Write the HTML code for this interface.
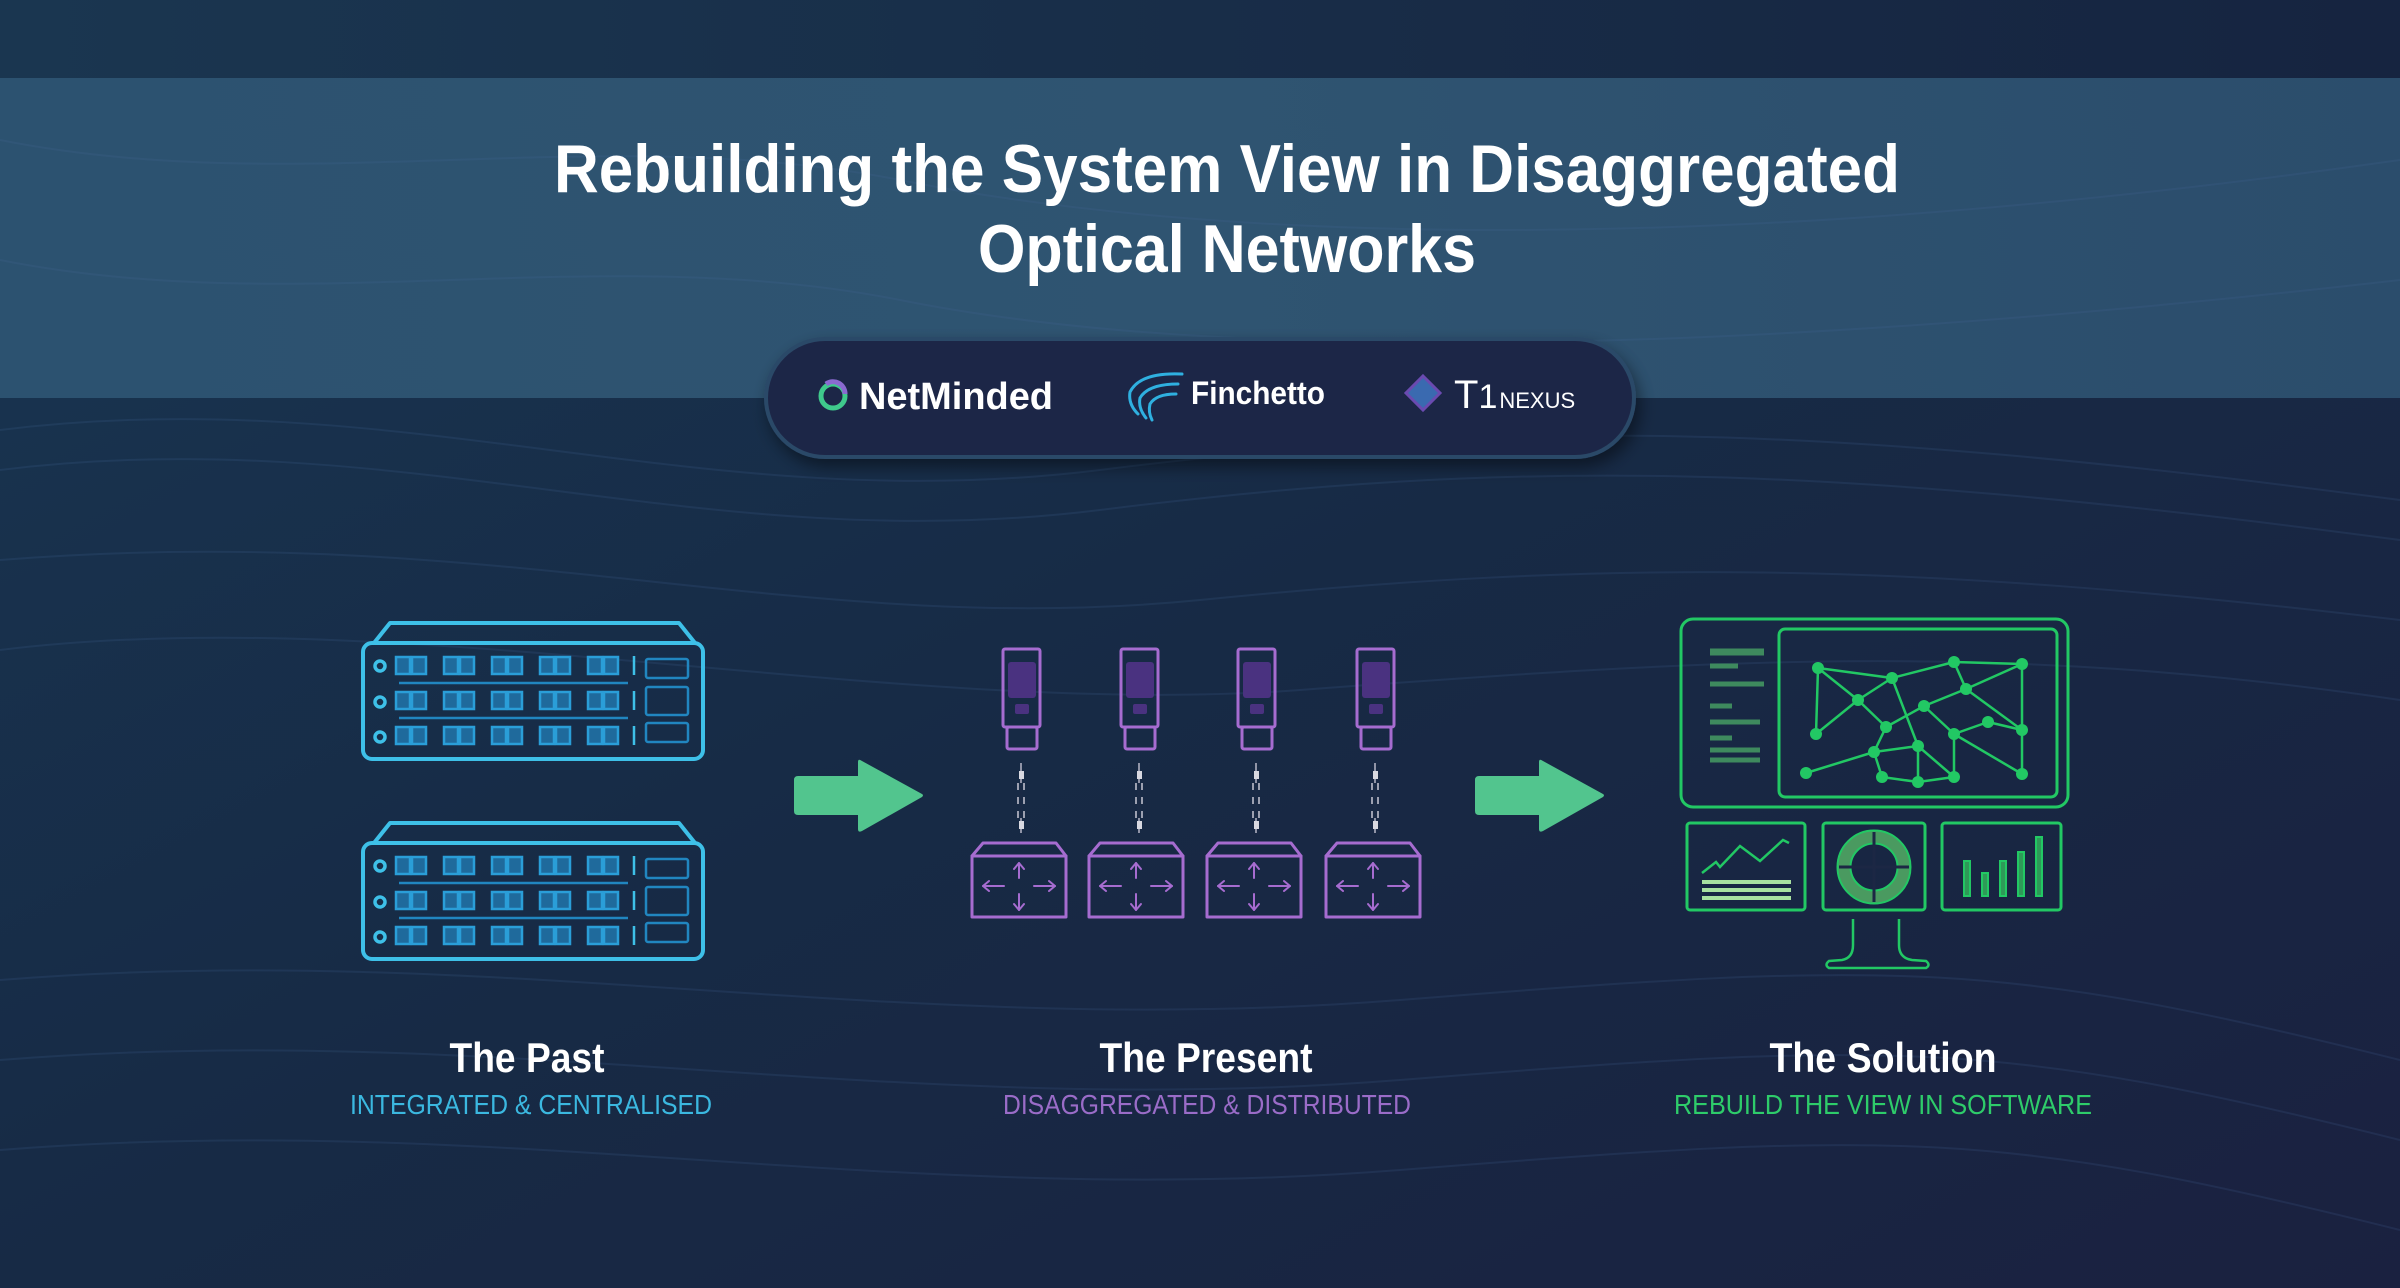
<!DOCTYPE html>
<html><head><meta charset="utf-8"><style>
html,body{margin:0;padding:0;background:#172a45;}
svg{display:block}
text{font-family:"Liberation Sans Narrow","Liberation Sans",sans-serif;}
</style></head><body>
<svg width="2400" height="1288" viewBox="0 0 2400 1288" xmlns="http://www.w3.org/2000/svg">
<defs>
<linearGradient id="bg" x1="0" y1="0" x2="1" y2="1">
<stop offset="0" stop-color="#183652"/><stop offset="0.5" stop-color="#172a45"/><stop offset="1" stop-color="#1a2140"/>
</linearGradient>
<linearGradient id="band" x1="0" y1="0" x2="1" y2="0">
<stop offset="0" stop-color="#2c5270"/><stop offset="0.5" stop-color="#2f5471"/><stop offset="1" stop-color="#2b4d6c"/>
</linearGradient>
<linearGradient id="top" x1="0" y1="0" x2="1" y2="0">
<stop offset="0" stop-color="#1a3650"/><stop offset="1" stop-color="#162440"/>
</linearGradient>
<filter id="sh" x="-10%" y="-30%" width="120%" height="170%"><feDropShadow dx="4" dy="8" stdDeviation="8" flood-color="#000" flood-opacity="0.45"/></filter>
<g id="rack" fill="none">
 <path d="M390 623 L679 623 L695 643 L374 643 Z" stroke="#3ec0e8" stroke-width="4" stroke-linejoin="round"/>
 <rect x="363" y="643" width="340" height="116" rx="9" stroke="#3ec0e8" stroke-width="4"/>
 <g stroke="#3ec0e8" stroke-width="3.5">
  <circle cx="380" cy="666" r="5"/><circle cx="380" cy="702" r="5"/><circle cx="380" cy="737" r="5"/>
 </g>
 <g stroke="#2186c0" stroke-width="2.5">
  <line x1="399" y1="683" x2="628" y2="683"/><line x1="399" y1="718" x2="628" y2="718"/>
 </g>
 <g fill="#1f6a9c" stroke="#2a9ed8" stroke-width="2.5">
  <g id="prow">
   <rect x="396" y="657" width="14" height="17"/><rect x="412" y="657" width="14" height="17"/>
   <rect x="444" y="657" width="14" height="17"/><rect x="460" y="657" width="14" height="17"/>
   <rect x="492" y="657" width="14" height="17"/><rect x="508" y="657" width="14" height="17"/>
   <rect x="540" y="657" width="14" height="17"/><rect x="556" y="657" width="14" height="17"/>
   <rect x="588" y="657" width="14" height="17"/><rect x="604" y="657" width="14" height="17"/>
  </g>
  <use href="#prow" y="35"/><use href="#prow" y="70"/>
 </g>
 <g stroke="#3ec0e8" stroke-width="2.5">
  <line x1="634" y1="656" x2="634" y2="675"/><line x1="634" y1="691" x2="634" y2="710"/><line x1="634" y1="726" x2="634" y2="745"/>
 </g>
 <g stroke="#2186c0" stroke-width="2.5">
  <rect x="646" y="659" width="42" height="19" rx="2"/><rect x="646" y="687" width="42" height="28" rx="2"/><rect x="646" y="723" width="42" height="19" rx="2"/>
 </g>
</g>
<g id="tx">
 <rect x="1003" y="649" width="37" height="78" rx="2" fill="none" stroke="#a66cd0" stroke-width="3"/>
 <rect x="1008" y="662" width="28" height="36" rx="3" fill="#4a3280"/>
 <rect x="1015" y="704" width="14" height="10" rx="2" fill="#4a3280"/>
 <rect x="1007" y="727" width="30" height="22" rx="2" fill="none" stroke="#a66cd0" stroke-width="3"/>
 <line x1="1021" y1="763" x2="1021" y2="833" stroke="#b8b8c8" stroke-width="1.5"/>
 <rect x="1019" y="771" width="5" height="8" fill="#d8d8e0"/>
 <rect x="1019" y="821" width="5" height="8" fill="#d8d8e0"/>
 <g stroke="#1a2a45" stroke-width="3"><line x1="1021" y1="783" x2="1021" y2="818"/></g>
 <g stroke="#c8c8d4" stroke-width="1.5">
  <line x1="1018" y1="783" x2="1018" y2="790"/><line x1="1024" y1="783" x2="1024" y2="790"/>
  <line x1="1018" y1="797" x2="1018" y2="804"/><line x1="1024" y1="797" x2="1024" y2="804"/>
  <line x1="1018" y1="811" x2="1018" y2="818"/><line x1="1024" y1="811" x2="1024" y2="818"/>
 </g>
</g>
<g id="sw" fill="none" stroke="#a66cd0" stroke-width="3" stroke-linejoin="round">
 <path d="M983 843 L1056 843 L1066 856 L972 856 Z"/>
 <rect x="972" y="856" width="94" height="61"/>
 <g stroke-width="2" stroke-linecap="round">
  <line x1="1019" y1="863" x2="1019" y2="878"/><path d="M1014 869 L1019 863 L1024 869"/>
  <line x1="1019" y1="894" x2="1019" y2="910"/><path d="M1014 904 L1019 910 L1024 904"/>
  <line x1="983" y1="886" x2="1004" y2="886"/><path d="M989 881 L983 886 L989 891"/>
  <line x1="1034" y1="886" x2="1055" y2="886"/><path d="M1049 881 L1055 886 L1049 891"/>
 </g>
</g>
<path id="arr" d="M0 22 Q0 18 4 18 L64 18 L64 4 Q64 0 68 3 L128 36 Q130 37 128 39 L68 73 Q64 75 64 71 L64 57 L4 57 Q0 57 0 53 Z" fill="#52c58e"/>
</defs>

<rect width="2400" height="1288" fill="url(#bg)"/>
<rect width="2400" height="78" fill="url(#top)"/>
<rect y="78" width="2400" height="320" fill="url(#band)"/>

<!-- faint waves -->
<g fill="none" stroke="#4a6a9a" stroke-opacity="0.18" stroke-width="2">
 <path d="M0 430 C400 380 700 520 1100 470 S1800 420 2400 500"/>
 <path d="M0 470 C400 420 700 560 1100 510 S1800 460 2400 540"/>
 <path d="M0 560 C500 520 800 640 1200 600 S1900 560 2400 620"/>
 <path d="M0 650 C400 600 900 720 1300 690 S2000 640 2400 700"/>
 <path d="M0 980 C500 940 900 1040 1400 1000 S2000 960 2400 1060"/>
 <path d="M0 1060 C500 1020 900 1120 1400 1080 S2000 1040 2400 1140"/>
 <path d="M0 1150 C500 1110 900 1210 1400 1170 S2000 1130 2400 1230"/>
 <path d="M0 140 C300 200 600 120 900 180 S1700 260 2400 160"/>
 <path d="M0 260 C300 320 600 240 900 300 S1700 360 2400 280"/>
</g>

<text x="1227" y="192" text-anchor="middle" font-size="68" font-weight="bold" fill="#fff" textLength="1346" lengthAdjust="spacingAndGlyphs">Rebuilding the System View in Disaggregated</text>
<text x="1227" y="272" text-anchor="middle" font-size="68" font-weight="bold" fill="#fff" textLength="498" lengthAdjust="spacingAndGlyphs">Optical Networks</text>

<!-- logo pill -->
<rect x="766" y="339" width="868" height="118" rx="59" fill="#1f2747" stroke="#2b4868" stroke-width="4" filter="url(#sh)"/>
<circle cx="833" cy="396" r="12" fill="none" stroke="#3fc98c" stroke-width="5"/>
<path d="M826 384 A12 12 0 0 1 845 394" fill="none" stroke="#8a6ad0" stroke-width="5"/>
<text x="859" y="409" font-family="Liberation Sans" font-size="38" font-weight="bold" fill="#fff" textLength="194" lengthAdjust="spacingAndGlyphs">NetMinded</text>
<g fill="none" stroke="#2fb0e0" stroke-width="3" stroke-linecap="round">
 <path d="M1182 374 Q1140 372 1130 392 Q1128 404 1138 414"/>
 <path d="M1178 384 Q1148 384 1140 398 Q1138 408 1146 418"/>
 <path d="M1176 394 Q1156 394 1150 404 Q1148 412 1152 420"/>
</g>
<text x="1191" y="404" font-family="Liberation Sans" font-size="32" font-weight="bold" fill="#fff" textLength="134" lengthAdjust="spacingAndGlyphs">Finchetto</text>
<path d="M1423 376 L1440 393 L1423 410 L1406 393 Z" fill="#3a6ab0" stroke="#6a4ab0" stroke-width="3"/>
<text x="1454" y="408" font-family="Liberation Serif" font-size="40" fill="#fff">T<tspan font-size="34">1</tspan><tspan font-family="Liberation Sans" font-size="22" dx="2">NEXUS</tspan></text>

<!-- past -->
<use href="#rack"/>
<use href="#rack" y="200"/>

<use href="#arr" x="794" y="758"/>
<use href="#arr" x="1475" y="758"/>

<!-- present -->
<use href="#tx"/><use href="#tx" x="118"/><use href="#tx" x="235"/><use href="#tx" x="354"/>
<use href="#sw"/><use href="#sw" x="117"/><use href="#sw" x="235"/><use href="#sw" x="354"/>

<!-- solution -->
<g fill="none" stroke="#22c864" stroke-width="3">
 <rect x="1681" y="619" width="387" height="188" rx="12"/>
 <rect x="1779" y="629" width="278" height="168" rx="6"/>
 <rect x="1687" y="823" width="118" height="87" rx="3"/>
 <rect x="1823" y="823" width="102" height="87" rx="3"/>
 <rect x="1942" y="823" width="119" height="87" rx="3"/>
 <path d="M1853 919 L1853 945 Q1853 958 1842 960 L1829 961 Q1824 965 1829 968 L1926 968 Q1931 965 1926 961 L1912 960 Q1899 958 1899 945 L1899 919" stroke-width="2.5"/>
</g>
<g stroke="#3e8a5e" stroke-width="5">
 <line x1="1710" y1="652" x2="1764" y2="652" stroke-width="7"/>
 <line x1="1710" y1="666" x2="1738" y2="666"/><line x1="1710" y1="684" x2="1764" y2="684"/>
 <line x1="1710" y1="706" x2="1732" y2="706"/><line x1="1710" y1="722" x2="1760" y2="722"/>
 <line x1="1710" y1="738" x2="1732" y2="738"/><line x1="1710" y1="750" x2="1760" y2="750"/>
 <line x1="1710" y1="760" x2="1760" y2="760"/>
</g>
<g stroke="#22c864" stroke-width="2.5" fill="none">
 <path d="M1818 668 L1892 678 M1818 668 L1858 700 M1818 668 L1816 734 M1892 678 L1954 662 M1892 678 L1858 700 M1892 678 L1918 746 M1954 662 L2022 664 M1954 662 L1966 689 M2022 664 L1966 689 M2022 664 L2022 730 M1858 700 L1816 734 M1858 700 L1886 727 M1886 727 L1924 706 M1924 706 L1966 689 M1924 706 L1954 734 M1966 689 L2022 730 M1954 734 L1988 722 M1988 722 L2022 730 M1954 734 L1954 777 M1954 734 L2022 774 M2022 730 L2022 774 M1886 727 L1874 752 M1874 752 L1918 746 M1874 752 L1806 773 M1874 752 L1882 777 M1918 746 L1918 782 M1918 746 L1954 777 M1882 777 L1918 782 M1918 782 L1954 777"/>
</g>
<g fill="#22c864">
 <circle cx="1818" cy="668" r="6"/><circle cx="1892" cy="678" r="6"/><circle cx="1954" cy="662" r="6"/><circle cx="2022" cy="664" r="6"/>
 <circle cx="1858" cy="700" r="6"/><circle cx="1966" cy="689" r="6"/><circle cx="1924" cy="706" r="6"/><circle cx="1816" cy="734" r="6"/>
 <circle cx="1886" cy="727" r="6"/><circle cx="1988" cy="722" r="6"/><circle cx="2022" cy="730" r="6"/><circle cx="1954" cy="734" r="6"/>
 <circle cx="1918" cy="746" r="6"/><circle cx="1874" cy="752" r="6"/><circle cx="1806" cy="773" r="6"/><circle cx="1882" cy="777" r="6"/>
 <circle cx="1918" cy="782" r="6"/><circle cx="1954" cy="777" r="6"/><circle cx="2022" cy="774" r="6"/>
</g>
<polyline points="1702,873 1716,862 1720,867 1740,846 1760,861 1783,840 1789,843" fill="none" stroke="#22c864" stroke-width="2.5"/>
<g stroke="#a8e0a0" stroke-width="4"><line x1="1702" y1="882" x2="1791" y2="882"/><line x1="1702" y1="890" x2="1791" y2="890"/><line x1="1702" y1="898" x2="1791" y2="898"/></g>
<circle cx="1874" cy="867" r="30" fill="none" stroke="#22c864" stroke-width="15"/>
<circle cx="1874" cy="867" r="30" fill="none" stroke="#4a9a60" stroke-width="11"/>
<g stroke="#1c2744" stroke-width="3"><line x1="1874" y1="832" x2="1874" y2="902"/><line x1="1839" y1="867" x2="1909" y2="867"/></g>
<g fill="#2e9a58" stroke="#22c864" stroke-width="2">
 <rect x="1964" y="861" width="6" height="35"/><rect x="1982" y="873" width="6" height="23"/><rect x="2000" y="861" width="6" height="35"/><rect x="2018" y="852" width="6" height="44"/><rect x="2036" y="837" width="6" height="59"/>
</g>

<!-- labels -->
<g font-weight="bold" fill="#fff" font-size="42" text-anchor="middle">
 <text x="527" y="1072" textLength="155" lengthAdjust="spacingAndGlyphs">The Past</text>
 <text x="1206" y="1072" textLength="213" lengthAdjust="spacingAndGlyphs">The Present</text>
 <text x="1883" y="1072" textLength="227" lengthAdjust="spacingAndGlyphs">The Solution</text>
</g>
<g font-size="28" text-anchor="middle">
 <text x="531" y="1114" fill="#3bb8e0" textLength="362" lengthAdjust="spacingAndGlyphs">INTEGRATED &amp; CENTRALISED</text>
 <text x="1207" y="1114" fill="#9a6cc8" textLength="408" lengthAdjust="spacingAndGlyphs">DISAGGREGATED &amp; DISTRIBUTED</text>
 <text x="1883" y="1114" fill="#2ecc6a" textLength="418" lengthAdjust="spacingAndGlyphs">REBUILD THE VIEW IN SOFTWARE</text>
</g>
</svg>
</body></html>
